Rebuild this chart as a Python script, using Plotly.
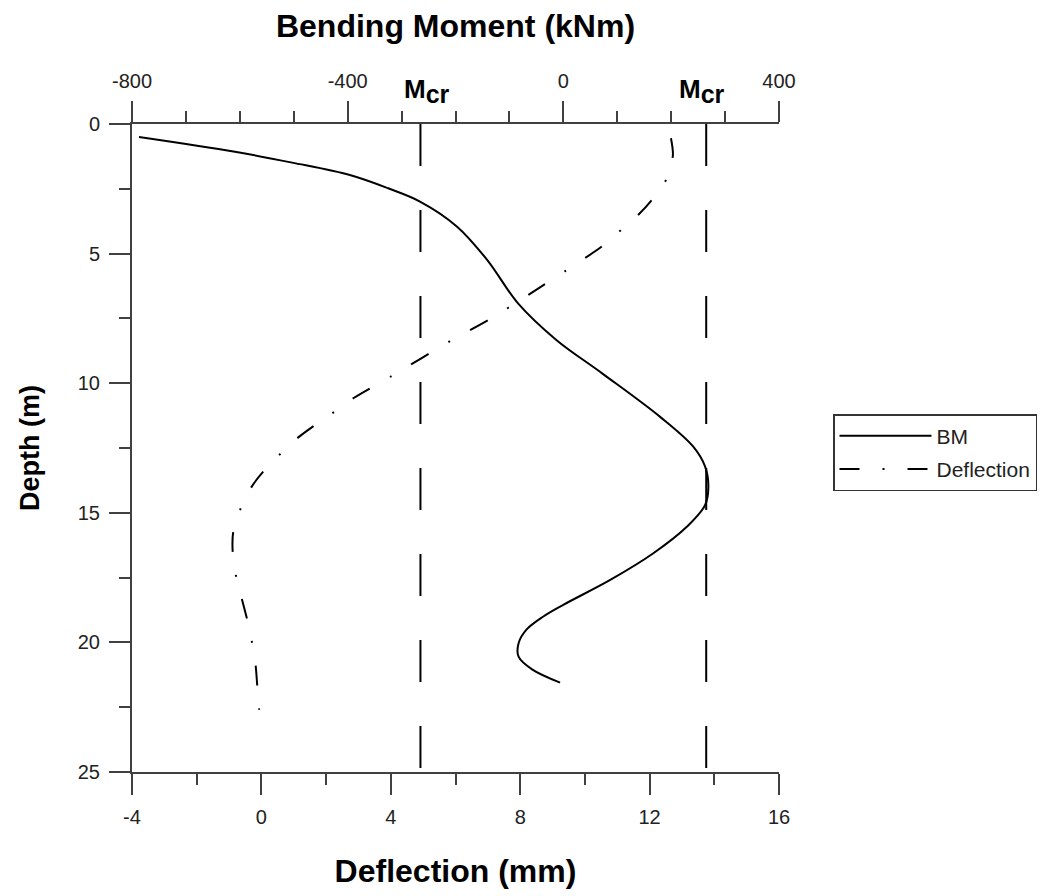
import plotly.graph_objects as go

# ---------------- data ----------------
# Bending moment profile (kNm) vs depth (m)
bm_depth = [0.5, 1.07, 1.49, 1.97, 2.48, 3.0, 3.96, 5.25, 6.92, 8.33, 9.62, 11.29,
            12.45, 13.22, 14.0, 14.7, 15.54, 16.56, 17.59, 18.55, 19.0, 19.5,
            20.03, 20.55, 21.04, 21.55]
bm_value = [-787, -609, -503, -396, -325, -265, -197, -141, -84, -13, 72, 179,
            241, 263, 269, 263, 229, 167, 87, 0, -37, -68,
            -83, -83, -58, -6]

# Deflection profile (mm) vs depth (m)
defl_depth = [0.55, 1.2, 2.13, 2.93, 3.49, 4.09, 4.71, 5.66, 6.56, 7.54, 8.36,
              9.72, 10.58, 11.1, 11.61, 12.09, 12.71, 13.38, 13.99, 14.83,
              15.73, 16.44, 17.4, 18.3, 19.07, 19.93, 20.87, 21.64, 22.6]
defl_value = [12.66, 12.72, 12.52, 12.07, 11.66, 11.12, 10.54, 9.41, 8.29, 7.05,
              5.86, 4.03, 2.84, 2.26, 1.66, 1.14, 0.60, 0.08, -0.30, -0.64,
              -0.87, -0.89, -0.79, -0.61, -0.45, -0.30, -0.18, -0.13, -0.07]

# Cracking moment lines (kNm)
mcr_values = [-265, 265]
mcr_depth = [0, 25]

# Axis ticks
defl_ticks = [-4, 0, 4, 8, 12, 16]
defl_labels = ["-4", "0", "4", "8", "12", "16"]
defl_minor = [-2, 2, 6, 10, 14]
bm_ticks = [-800, -400, 0, 400]
bm_labels = ["-800", "-400", "0", "400"]
bm_minor = [-700, -600, -500, -300, -200, -100, 100, 200, 300]
depth_ticks = [0, 5, 10, 15, 20, 25]
depth_labels = ["0", "5", "10", "15", "20", "25"]
depth_minor = [2.5, 7.5, 12.5, 17.5, 22.5]

FONT = "Liberation Sans, Arial, sans-serif"
AX = "#404040"
W, H = 1061, 896
# page body adds an 8px offset; margins compensate so the plot sits where the reference has it
L, R, T, B = 124, 290, 116, 132

fig = go.Figure()

fig.add_trace(go.Scatter(
    x=bm_value, y=bm_depth, xaxis="x2", yaxis="y", name="BM",
    mode="lines", line=dict(color="black", width=2, shape="spline", smoothing=1.0),
    legendgroup="a"))

fig.add_trace(go.Scatter(
    x=defl_value, y=defl_depth, xaxis="x", yaxis="y", name="Deflection",
    mode="lines", line=dict(color="black", width=2, dash="20px,23px,2px,23px",
                            shape="spline", smoothing=0.8),
    legendgroup="b"))

for m in mcr_values:
    fig.add_trace(go.Scatter(
        x=[m, m], y=mcr_depth, xaxis="x2", yaxis="y", mode="lines",
        line=dict(color="black", width=2, dash="42px,44px"),
        showlegend=False, hoverinfo="skip"))

common = dict(showgrid=False, zeroline=False, showline=True, linewidth=2,
              linecolor=AX, ticks="outside", ticklen=21, tickwidth=2,
              tickcolor=AX, ticklabelstandoff=5,
              tickfont=dict(family=FONT, size=20, color="#222"))

fig.update_layout(
    width=W, height=H,
    margin=dict(l=L, r=R, t=T, b=B, autoexpand=False),
    paper_bgcolor="white", plot_bgcolor="white",
    font=dict(family=FONT, color="black"),
    xaxis=dict(range=[-4, 16], tickvals=defl_ticks, ticktext=defl_labels,
               anchor="y", side="bottom",
               minor=dict(tickvals=defl_minor, ticks="outside", ticklen=11,
                          tickwidth=2, tickcolor=AX),
               title=dict(text="<b>Deflection (mm)</b>", standoff=33,
                          font=dict(family=FONT, size=32, color="black")),
               **common),
    xaxis2=dict(range=[-800, 400], tickvals=bm_ticks, ticktext=bm_labels,
                anchor="y", side="top", overlaying="x",
                minor=dict(tickvals=bm_minor, ticks="outside", ticklen=11,
                           tickwidth=2, tickcolor=AX),
                title=dict(text="<b>Bending Moment (kNm)</b>", standoff=24,
                           font=dict(family=FONT, size=32, color="black")),
                **common),
    yaxis=dict(range=[25, 0], tickvals=depth_ticks, ticktext=depth_labels,
               anchor="x",
               minor=dict(tickvals=depth_minor, ticks="outside", ticklen=11,
                          tickwidth=2, tickcolor=AX),
               title=dict(text="<b>Depth (m)</b>", standoff=30,
                          font=dict(family=FONT, size=27, color="black")),
               **common),
    legend=dict(x=(825 - L) / (W - L - R), y=(H - B - 406) / (H - T - B),
                xanchor="left", yanchor="top", bordercolor="#333", borderwidth=1.5,
                bgcolor="white", font=dict(family=FONT, size=21, color="#222"),
                traceorder="grouped", tracegroupgap=3, itemwidth=92),
    showlegend=True,
)

shifts = [7, -4]
for m, s in zip(mcr_values, shifts):
    fig.add_annotation(
        x=m, xref="x2", y=(H - B - 83) / (H - T - B), yref="paper",
        xanchor="center", yanchor="middle", xshift=s, showarrow=False,
        text="<b>M<sub><span style='font-size:25px'>cr</span></sub></b>",
        font=dict(family=FONT, size=26, color="black"))

fig.write_html("out.html")
